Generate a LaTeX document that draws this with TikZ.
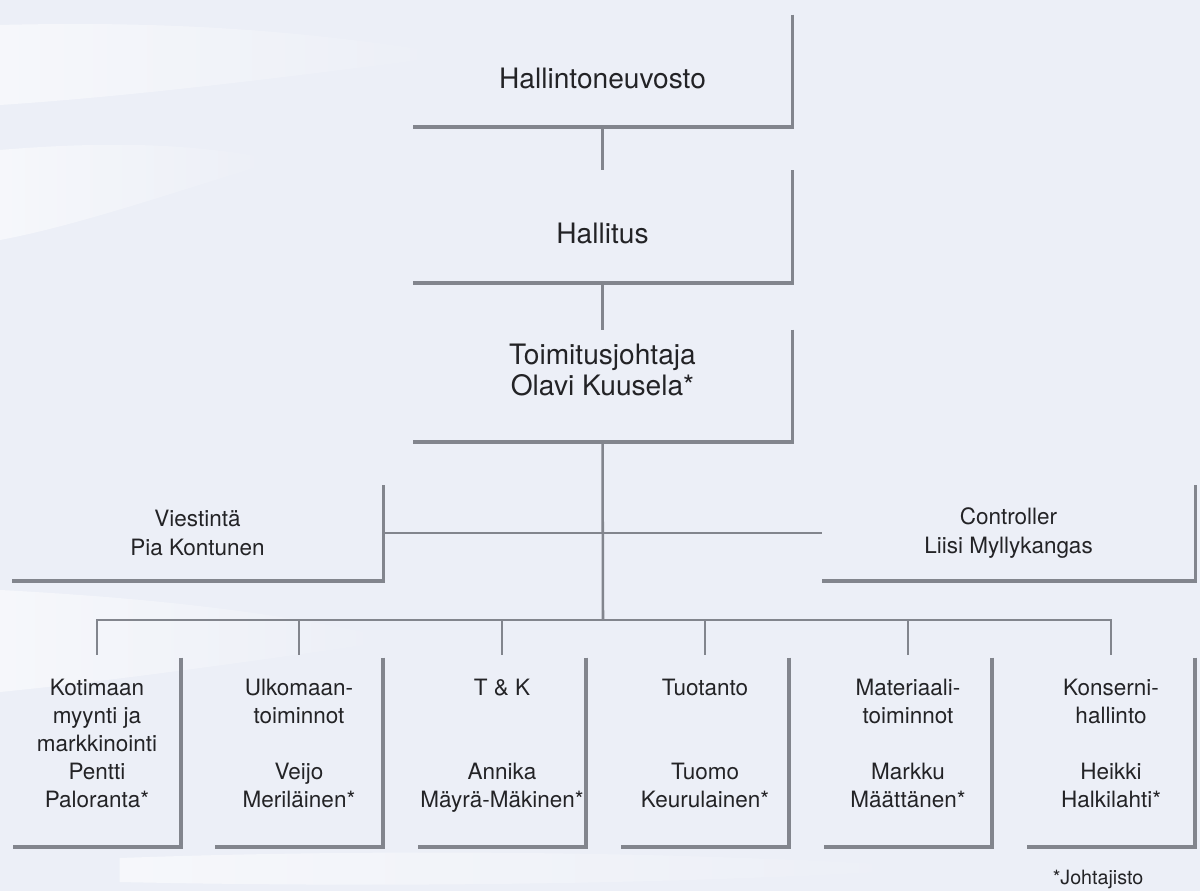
\documentclass[tikz,border=0pt]{standalone}
\usepackage{fontspec}
\setmainfont{TeX Gyre Heros}
\usetikzlibrary{positioning,fadings}

\definecolor{bgblue}{RGB}{236,239,247}
\definecolor{framegray}{RGB}{130,133,141}
\definecolor{inkgray}{RGB}{35,35,38}

\begin{document}
\begin{tikzpicture}[x=0.025cm,y=-0.025cm,text=inkgray]
  \tikzset{topbox/.style = {minimum width=9.475cm,minimum height=2.8cm,inner sep=0pt,align=center,font=\fontsize{20}{22}\selectfont}}
  \tikzset{midbox/.style = {minimum height=2.375cm,inner sep=0pt,align=center,font=\fontsize{16}{20}\selectfont}}
  \tikzset{unitbox/.style = {minimum width=4.2cm,minimum height=4.725cm,inner sep=0pt,align=center,text depth=0.46cm,font=\fontsize{16}{20}\selectfont}}
  \tikzset{frame/.style = {draw=framegray,line width=2.6pt}}
  \tikzset{link/.style = {draw=framegray,line width=1.8pt}}
  \tikzset{streak/.style = {fill=white,opacity=.55,path fading=east}}

  % background
  \fill[bgblue] (0,0) rectangle (1200,891);
  \fill[streak] (0,25) .. controls (200,20) and (330,35) .. (460,55) .. controls (300,75) and (150,95) .. (0,105) -- cycle;
  \fill[streak] (0,150) .. controls (120,140) and (200,145) .. (280,160) .. controls (180,190) and (80,225) .. (0,240) -- cycle;
  \fill[streak] (0,590) .. controls (150,598) and (280,612) .. (400,640) .. controls (260,660) and (120,680) .. (0,692) -- cycle;
  \fill[streak] (120,858) .. controls (400,848) and (700,852) .. (950,868) .. controls (700,884) and (400,888) .. (120,882) -- cycle;

  % boxes
  \node[topbox,text height=0.9cm] (hn) at (602.5,71) {Hallintoneuvosto};
  \node[topbox,text height=0.85cm] (hall) at (602.5,226.5) {Hallitus};
  \node[topbox,text depth=0.8cm] (tj) at (602.5,386) {Toimitusjohtaja\\Olavi Kuusela*};

  \node[midbox,minimum width=9.275cm] (viest) at (197.5,533) {Viestintä\\Pia Kontunen};
  \node[midbox,minimum width=9.325cm] (contr) at (1008.5,533) {Controller\\Liisi Myllykangas};

  \node[unitbox] (kotimaa) at (97,752.5) {Kotimaan\\myynti ja\\markkinointi\\Pentti\\Paloranta*};
  \node[unitbox] (ulkomaa) at (299,752.5) {Ulkomaan-\\toiminnot\\~\\Veijo\\Meriläinen*};
  \node[unitbox] (tk) at (502,752.5) {T \& K\\~\\~\\Annika\\Mäyrä-Mäkinen*};
  \node[unitbox] (tuotanto) at (705,752.5) {Tuotanto\\~\\~\\Tuomo\\Keurulainen*};
  \node[unitbox] (materiaali) at (908,752.5) {Materiaali-\\toiminnot\\~\\Markku\\Määttänen*};
  \node[unitbox] (konserni) at (1111,752.5) {Konserni-\\hallinto\\~\\Heikki\\Halkilahti*};

  \node[font=\fontsize{14}{16}\selectfont] (note) at (1098,879) {*Johtajisto};

  \coordinate (bar) at (603,620);

  % frames
  \foreach \n in {hn,hall,tj,viest,contr,kotimaa,ulkomaa,tk,tuotanto,materiaali,konserni}
    \draw[frame] (\n.north east) -- (\n.south east) -- (\n.south west);

  % connectors
  \draw[link,shorten <=2pt,shorten >=2pt] (kotimaa.north) |- (bar) -| (konserni.north);
  \draw[link] (hn) -- (hall);
  \draw[link] (hall) -- (tj);
  \draw[link] (tj.south) -- (bar);
  \draw[link] (viest.east) -- (contr.west);
  \foreach \b in {ulkomaa,tk,tuotanto,materiaali}
    \draw[link,shorten >=2pt] (\b.north |- bar) -- (\b.north);

\end{tikzpicture}
\end{document}
